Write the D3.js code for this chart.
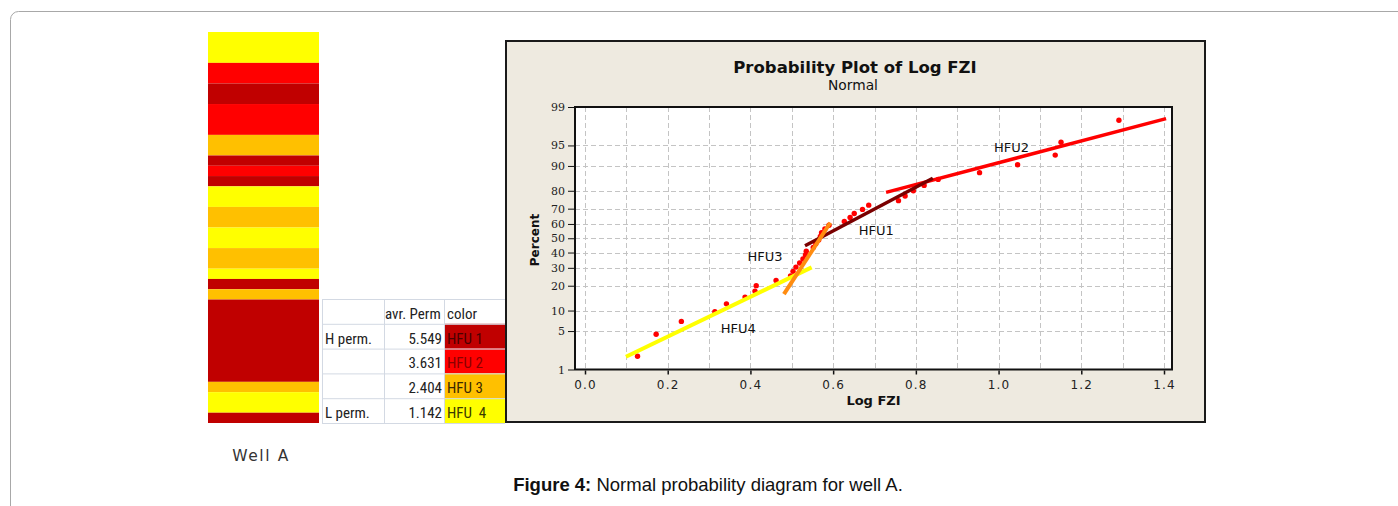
<!DOCTYPE html>
<html><head><meta charset="utf-8">
<script src="https://cdn.jsdelivr.net/npm/d3@7"></script>
<style>body{margin:0;background:#fff}svg{display:block}</style>
</head><body>
<script>
// ---------- data ----------
const hfuNames = ["HFU 1", "HFU 2", "HFU 3", "HFU 4"];
const hfuColors = ["#C00000", "#FF0000", "#FFC000", "#FFFF00"];
const hfuTextColors = ["#4a0000", "#8a0000", "#3a2800", "#3a3a00"];
const avgPerm = [5.549, 3.631, 2.404, 1.142];
const permLabels = ["H perm.", "", "", "L perm."];
const tableHeader = ["", "avr. Perm", "color"];

// well column: HFU class (1..4) of each interval, top to bottom, and its thickness
const wellHFU = [4, 2, 1, 2, 3, 1, 2, 1, 4, 3, 4, 3, 4, 1, 3, 1, 3, 4, 1];
const wellThickness = [3, 2, 2, 3, 2, 1, 1, 1, 2, 2, 2, 2, 1, 1, 1, 8, 1, 2, 1];

// probability plot points
const logFZI = [0.127, 0.172, 0.233, 0.314, 0.342, 0.387, 0.411, 0.414, 0.462, 0.497,
  0.503, 0.510, 0.519, 0.527, 0.533, 0.535, 0.552, 0.558, 0.565, 0.569,
  0.572, 0.580, 0.590, 0.627, 0.641, 0.651, 0.671, 0.686, 0.758, 0.774,
  0.794, 0.820, 0.854, 0.954, 1.046, 1.137, 1.151, 1.291];
const percent = [1.82, 4.43, 7.03, 9.64, 12.24, 14.84, 17.45, 20.05, 22.66, 25.26,
  27.86, 30.47, 33.07, 35.68, 38.28, 40.89, 43.49, 46.09, 48.70, 51.30,
  53.91, 56.51, 59.11, 61.72, 64.32, 66.93, 69.53, 72.14, 74.74, 77.34,
  79.95, 82.55, 85.16, 87.76, 90.36, 92.97, 95.57, 98.18];

// fitted lines per HFU (drawing order)
const fitNames = ["HFU2", "HFU1", "HFU4", "HFU3"];
const fitColors = ["#FF0000", "#7A0000", "#FFFF00", "#FF8C10"];
const fitX0 = [0.728, 0.532, 0.099, 0.481];
const fitP0 = [79.2, 44.7, 1.78, 16.1];
const fitX1 = [1.405, 0.841, 0.548, 0.593];
const fitP1 = [98.3, 85.6, 30.3, 60.8];

// line labels
const labelText = ["HFU1", "HFU2", "HFU3", "HFU4"];
const labelX = [0.662, 0.989, 0.393, 0.328];
const labelP = [55.3, 94.7, 37.6, 5.4];

const xTicks = [0, 0.2, 0.4, 0.6, 0.8, 1.0, 1.2, 1.4];
const xGrid = [0, 0.1, 0.2, 0.3, 0.4, 0.5, 0.6, 0.7, 0.8, 0.9, 1.0, 1.1, 1.2, 1.3, 1.4];
const yTicks = [1, 5, 10, 20, 30, 40, 50, 60, 70, 80, 90, 95, 99];

// inverse normal CDF (Acklam)
function qnorm(p) {
  const a = [-3.969683028665376e+01, 2.209460984245205e+02, -2.759285104469687e+02, 1.383577518672690e+02, -3.066479806614716e+01, 2.506628277459239e+00];
  const b = [-5.447609879822406e+01, 1.615858368580409e+02, -1.556989798598866e+02, 6.680131188771972e+01, -1.328068155288572e+01];
  const c = [-7.784894002430293e-03, -3.223964580411365e-01, -2.400758277161838e+00, -2.549732539343734e+00, 4.374664141464968e+00, 2.938163982698783e+00];
  const d = [7.784695709041462e-03, 3.224671290700398e-01, 2.445134137142996e+00, 3.754408661907416e+00];
  const pl = 0.02425, ph = 1 - pl;
  let q, r;
  if (p < pl) { q = Math.sqrt(-2 * Math.log(p)); return (((((c[0]*q+c[1])*q+c[2])*q+c[3])*q+c[4])*q+c[5]) / ((((d[0]*q+d[1])*q+d[2])*q+d[3])*q+1); }
  if (p <= ph) { q = p - 0.5; r = q*q; return (((((a[0]*r+a[1])*r+a[2])*r+a[3])*r+a[4])*r+a[5])*q / (((((b[0]*r+b[1])*r+b[2])*r+b[3])*r+b[4])*r+1); }
  q = Math.sqrt(-2 * Math.log(1 - p)); return -(((((c[0]*q+c[1])*q+c[2])*q+c[3])*q+c[4])*q+c[5]) / ((((d[0]*q+d[1])*q+d[2])*q+d[3])*q+1);
}

// ---------- drawing ----------
const W = 1398, H = 506;
const svg = d3.select("body").append("svg").attr("width", W).attr("height", H);

// outer frame
svg.append("rect").attr("x", 10.5).attr("y", 11.5).attr("width", 1420).attr("height", 540)
  .attr("rx", 8).attr("fill", "#fff").attr("stroke", "#a8a8a8").attr("stroke-width", 1);

// well column
const cum = d3.cumsum(wellThickness);
const depth = d3.scaleLinear().domain([0, d3.sum(wellThickness)]).range([32, 423]);
svg.append("g").selectAll("rect").data(wellHFU).join("rect")
  .attr("x", 208).attr("width", 111)
  .attr("y", (d, i) => depth(cum[i] - wellThickness[i]))
  .attr("height", (d, i) => depth(cum[i]) - depth(cum[i] - wellThickness[i]))
  .attr("fill", d => hfuColors[d - 1]);

svg.append("text").attr("x", 261).attr("y", 461).attr("text-anchor", "middle")
  .attr("font-family", "DejaVu Sans, Verdana, sans-serif").attr("font-size", 15.5)
  .attr("letter-spacing", 1.6).attr("fill", "#333").text("Well A");

// table
const colX = [322, 384, 444, 505];
const rowBand = d3.scaleBand().domain(d3.range(5)).range([299, 423]);
const tbl = svg.append("g").attr("font-family", "Liberation Sans Narrow, Arial Narrow, Roboto Condensed, sans-serif").attr("font-size", 15);
tbl.append("rect").attr("x", colX[0]).attr("y", 299).attr("width", colX[3] - colX[0]).attr("height", 124).attr("fill", "#fff");
tbl.selectAll("rect.c").data(hfuColors).join("rect").attr("class", "c")
  .attr("x", colX[2]).attr("width", colX[3] - colX[2])
  .attr("y", (d, i) => rowBand(i + 1)).attr("height", rowBand.bandwidth())
  .attr("fill", d => d);
const gridC = "#d3d9e3";
d3.range(6).forEach(i => {
  const yy = i < 5 ? rowBand(i) : 423;
  tbl.append("line").attr("x1", colX[0]).attr("x2", colX[3]).attr("y1", yy + 0.5).attr("y2", yy + 0.5).attr("stroke", gridC);
});
colX.slice(0, 3).forEach(xx => {
  tbl.append("line").attr("x1", xx + 0.5).attr("x2", xx + 0.5).attr("y1", 299).attr("y2", 423).attr("stroke", gridC);
});
tbl.append("text").attr("x", colX[1] + 1).attr("y", rowBand(0) + rowBand.bandwidth() - 5).attr("fill", "#222").text(tableHeader[1]);
tbl.append("text").attr("x", colX[2] + 3).attr("y", rowBand(0) + rowBand.bandwidth() - 5).attr("fill", "#222").text(tableHeader[2]);
tbl.selectAll("text.l").data(permLabels).join("text").attr("class", "l")
  .attr("x", colX[0] + 3).attr("y", (d, i) => rowBand(i + 1) + rowBand.bandwidth() - 5)
  .attr("fill", "#222").text(d => d);
tbl.selectAll("text.v").data(avgPerm).join("text").attr("class", "v")
  .attr("x", colX[2] - 2).attr("text-anchor", "end")
  .attr("y", (d, i) => rowBand(i + 1) + rowBand.bandwidth() - 5)
  .attr("fill", "#222").text(d => d3.format(".3f")(d));
tbl.selectAll("text.h").data(hfuNames).join("text").attr("class", "h")
  .attr("x", colX[2] + 3).attr("y", (d, i) => rowBand(i + 1) + rowBand.bandwidth() - 5)
  .attr("fill", (d, i) => hfuTextColors[i]).attr("xml:space", "preserve")
  .text((d, i) => i === 3 ? "HFU  4" : d);

// chart panel
svg.append("rect").attr("x", 506).attr("y", 41).attr("width", 699).attr("height", 381)
  .attr("fill", "#EEEAE0").attr("stroke", "#1a1a1a").attr("stroke-width", 2);

const L = 575, R = 1172, T = 107, B = 369.5;
const x = d3.scaleLinear().domain([0, 1.4]).range([585, 1164]);
const y = d3.scaleLinear().domain([qnorm(0.01), qnorm(0.99)]).range([B, T]);
const yP = p => y(qnorm(p / 100));

svg.append("rect").attr("x", L).attr("y", T).attr("width", R - L).attr("height", B - T).attr("fill", "#fff");

// grid
const grid = svg.append("g").attr("stroke", "#c4c4c4").attr("stroke-width", 1).attr("stroke-dasharray", "5,3");
grid.selectAll("line.gx").data(xGrid).join("line").attr("class", "gx")
  .attr("x1", d => Math.round(x(d)) + 0.5).attr("x2", d => Math.round(x(d)) + 0.5).attr("y1", T).attr("y2", B);
grid.selectAll("line.gy").data(yTicks.slice(1, -1)).join("line").attr("class", "gy")
  .attr("y1", d => Math.round(yP(d)) + 0.5).attr("y2", d => Math.round(yP(d)) + 0.5).attr("x1", L).attr("x2", R);

// points
svg.append("g").selectAll("circle").data(logFZI).join("circle")
  .attr("cx", d => x(d)).attr("cy", (d, i) => yP(percent[i])).attr("r", 2.7).attr("fill", "#FF0000");

// fit lines
svg.append("g").selectAll("line").data(fitNames).join("line")
  .attr("x1", (d, i) => x(fitX0[i])).attr("y1", (d, i) => yP(fitP0[i]))
  .attr("x2", (d, i) => x(fitX1[i])).attr("y2", (d, i) => yP(fitP1[i]))
  .attr("stroke", (d, i) => fitColors[i]).attr("stroke-width", (d, i) => i < 2 ? 3.5 : 4);

// labels
svg.append("g").selectAll("text").data(labelText).join("text")
  .attr("x", (d, i) => x(labelX[i])).attr("y", (d, i) => yP(labelP[i]))
  .attr("dominant-baseline", "central")
  .attr("font-family", "DejaVu Sans, Verdana, sans-serif").attr("font-size", 13).attr("fill", "#111")
  .text(d => d);

// frame
svg.append("rect").attr("x", L).attr("y", T).attr("width", R - L).attr("height", B - T)
  .attr("fill", "none").attr("stroke", "#111").attr("stroke-width", 2);

// axes
const xAxis = svg.append("g").attr("transform", `translate(0,${B + 1})`)
  .call(d3.axisBottom(x).tickValues(xTicks).tickFormat(d3.format(".1f")).tickSize(4).tickSizeOuter(0));
xAxis.select(".domain").remove();
xAxis.selectAll("line").attr("stroke", "#111").attr("stroke-width", 1.5);
xAxis.selectAll("text").attr("font-family", "DejaVu Sans, Verdana, sans-serif").attr("font-size", 12)
  .attr("letter-spacing", 1.2).attr("fill", "#222").attr("dy", "0.95em");

const yAxis = svg.append("g").attr("transform", `translate(${L - 1},0)`)
  .call(d3.axisLeft(y).tickValues(yTicks.map(p => qnorm(p / 100))).tickFormat((d, i) => yTicks[i]).tickSize(6).tickSizeOuter(0));
yAxis.select(".domain").remove();
yAxis.selectAll("line").attr("stroke", "#111").attr("stroke-width", 1);
yAxis.selectAll("text").attr("font-family", "DejaVu Serif, serif").attr("font-size", 11).attr("fill", "#222").attr("x", -9);

// titles
svg.append("text").attr("x", 855).attr("y", 73).attr("text-anchor", "middle")
  .attr("font-family", "DejaVu Sans, Verdana, sans-serif").attr("font-weight", "bold").attr("font-size", 16.5)
  .attr("fill", "#111").text("Probability Plot of Log FZI");
svg.append("text").attr("x", 853).attr("y", 90).attr("text-anchor", "middle")
  .attr("font-family", "DejaVu Sans, Verdana, sans-serif").attr("font-size", 13.8)
  .attr("fill", "#111").text("Normal");
svg.append("text").attr("x", (L + R) / 2).attr("y", 405).attr("text-anchor", "middle")
  .attr("font-family", "DejaVu Sans, Verdana, sans-serif").attr("font-weight", "bold").attr("font-size", 13)
  .attr("fill", "#111").text("Log FZI");
svg.append("text").attr("transform", `translate(539,240) rotate(-90)`).attr("text-anchor", "middle")
  .attr("font-family", "DejaVu Sans, Verdana, sans-serif").attr("font-weight", "bold").attr("font-size", 12)
  .attr("fill", "#111").text("Percent");

// caption
const cap = svg.append("text").attr("x", 708).attr("y", 491).attr("text-anchor", "middle")
  .attr("font-family", "Liberation Sans, Arial, sans-serif").attr("font-size", 18.5).attr("fill", "#111");
cap.append("tspan").attr("font-weight", "bold").text("Figure 4:");
cap.append("tspan").text(" Normal probability diagram for well A.");
</script>
</body></html>
